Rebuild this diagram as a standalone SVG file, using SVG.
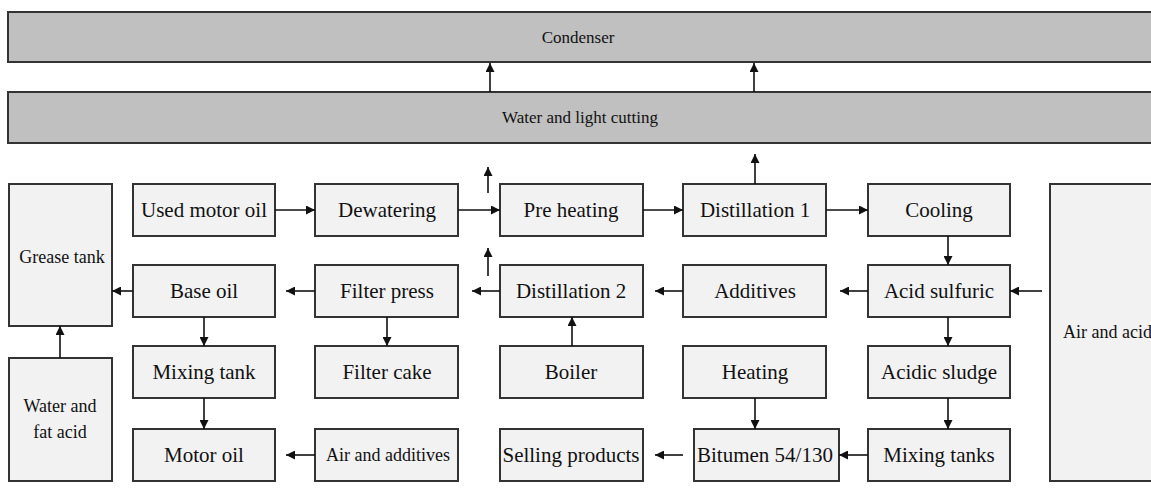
<svg xmlns="http://www.w3.org/2000/svg" width="1151" height="498" viewBox="0 0 1151 498">
<style>
.bar{fill:#c0c0c0;stroke:#333;stroke-width:2}
.box{fill:#f2f2f2;stroke:#333;stroke-width:2}
.t{font-family:"Liberation Serif","Times New Roman",serif;font-size:21px;fill:#111;text-anchor:middle;dominant-baseline:central}
.s{font-size:18px}
.b{font-size:17px}
.c path{stroke:#111;stroke-width:1.6;fill:none;marker-end:url(#ah)}
</style>
<defs>
<marker id="ah" markerUnits="userSpaceOnUse" markerWidth="10" markerHeight="9" refX="9" refY="4.5" orient="auto">
<path d="M0,0 L9,4.5 L0,9 z" fill="#111"/>
</marker>
</defs>
<rect width="1151" height="498" fill="#fff"/>
<g id="condenser"><rect class="bar" x="8" y="12" width="1160" height="50"/><text class="t b" x="578" y="37">Condenser</text></g>
<g id="water-light"><rect class="bar" x="8" y="92" width="1160" height="51"/><text class="t b" x="580" y="117">Water and light cutting</text></g>
<g id="grease-tank"><rect class="box" x="9" y="184" width="103" height="142"/><text class="t s" x="62" y="257">Grease tank</text></g>
<g id="water-fat-acid"><rect class="box" x="9" y="358" width="103" height="123"/><text class="t s" x="60" y="406">Water and</text><text class="t s" x="60" y="432">fat acid</text></g>
<g id="air-acid"><rect class="box" x="1050" y="184" width="120" height="297"/><text class="t s" x="1063" y="332" style="text-anchor:start">Air and acid</text></g>
<g id="used-motor-oil"><rect class="box" x="133" y="184" width="142" height="52"/><text class="t" x="204" y="210">Used motor oil</text></g>
<g id="dewatering"><rect class="box" x="315" y="184" width="143" height="52"/><text class="t" x="387" y="210">Dewatering</text></g>
<g id="pre-heating"><rect class="box" x="500" y="184" width="143" height="52"/><text class="t" x="571" y="210">Pre heating</text></g>
<g id="distillation-1"><rect class="box" x="683" y="184" width="143" height="52"/><text class="t" x="755" y="210">Distillation 1</text></g>
<g id="cooling"><rect class="box" x="868" y="184" width="142" height="52"/><text class="t" x="939" y="210">Cooling</text></g>
<g id="base-oil"><rect class="box" x="133" y="265" width="142" height="52"/><text class="t" x="204" y="291">Base oil</text></g>
<g id="filter-press"><rect class="box" x="315" y="265" width="143" height="52"/><text class="t" x="387" y="291">Filter press</text></g>
<g id="distillation-2"><rect class="box" x="500" y="265" width="143" height="52"/><text class="t" x="571" y="291">Distillation 2</text></g>
<g id="additives"><rect class="box" x="683" y="265" width="143" height="52"/><text class="t" x="755" y="291">Additives</text></g>
<g id="acid-sulfuric"><rect class="box" x="868" y="265" width="142" height="52"/><text class="t" x="939" y="291">Acid sulfuric</text></g>
<g id="mixing-tank"><rect class="box" x="133" y="346" width="142" height="52"/><text class="t" x="204" y="372">Mixing tank</text></g>
<g id="filter-cake"><rect class="box" x="315" y="346" width="143" height="52"/><text class="t" x="387" y="372">Filter cake</text></g>
<g id="boiler"><rect class="box" x="500" y="346" width="143" height="52"/><text class="t" x="571" y="372">Boiler</text></g>
<g id="heating"><rect class="box" x="683" y="346" width="143" height="52"/><text class="t" x="755" y="372">Heating</text></g>
<g id="acidic-sludge"><rect class="box" x="868" y="346" width="142" height="52"/><text class="t" x="939" y="372">Acidic sludge</text></g>
<g id="motor-oil"><rect class="box" x="133" y="429" width="142" height="52"/><text class="t" x="204" y="455">Motor oil</text></g>
<g id="air-additives"><rect class="box" x="315" y="429" width="143" height="52"/><text class="t s" x="388" y="455">Air and additives</text></g>
<g id="selling-products"><rect class="box" x="500" y="429" width="143" height="52"/><text class="t" x="571" y="455">Selling products</text></g>
<g id="bitumen"><rect class="box" x="694" y="429" width="145" height="52"/><text class="t" x="765" y="455">Bitumen 54/130</text></g>
<g id="mixing-tanks"><rect class="box" x="868" y="429" width="142" height="52"/><text class="t" x="939" y="455">Mixing tanks</text></g>
<g id="connectors" class="c">
<path d="M490,92 V63"/>
<path d="M754,92 V63"/>
<path d="M488,193 V167"/>
<path d="M488,276 V248"/>
<path d="M755,184 V154"/>
<path d="M275,210 H315"/>
<path d="M458,210 H500"/>
<path d="M643,210 H683"/>
<path d="M826,210 H868"/>
<path d="M948,236 V265"/>
<path d="M1042,291 H1010"/>
<path d="M868,291 H840"/>
<path d="M683,291 H655"/>
<path d="M500,291 H472"/>
<path d="M315,291 H286"/>
<path d="M133,291 H112"/>
<path d="M204,317 V346"/>
<path d="M387,317 V346"/>
<path d="M204,398 V429"/>
<path d="M60,358 V326"/>
<path d="M572,346 V317"/>
<path d="M755,398 V429"/>
<path d="M948,317 V346"/>
<path d="M948,398 V429"/>
<path d="M315,455 H286"/>
<path d="M683,455 H655"/>
<path d="M868,455 H839"/>
</g>
</svg>
